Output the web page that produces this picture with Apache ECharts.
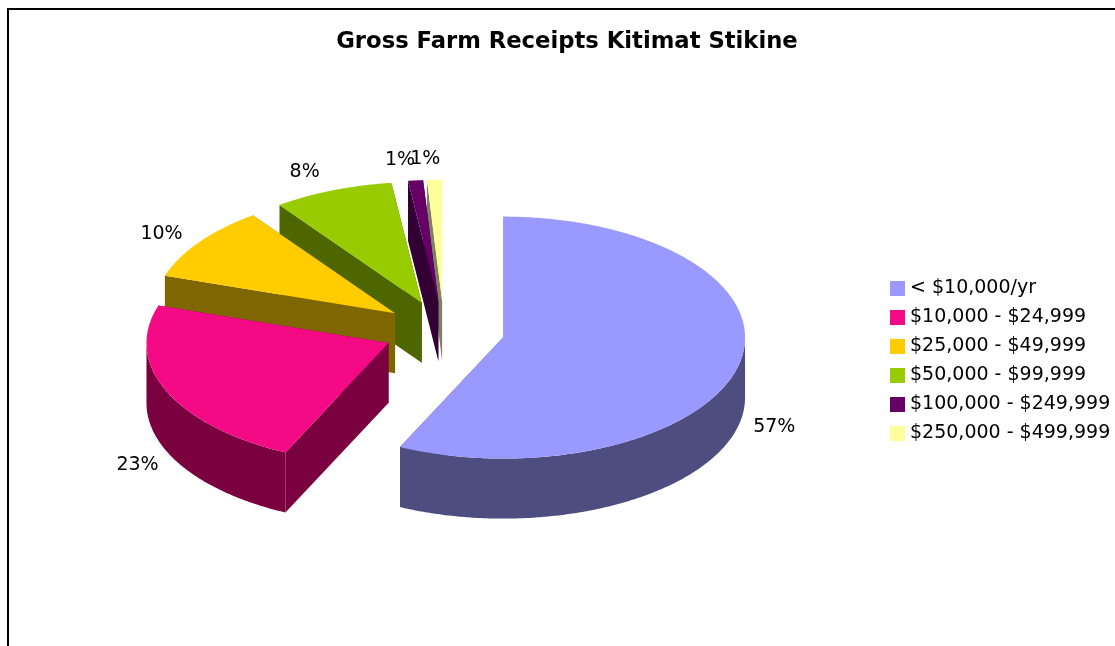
<!DOCTYPE html>
<html>
<head>
<meta charset="utf-8">
<title>Gross Farm Receipts Kitimat Stikine</title>
<style>
  html, body { margin: 0; padding: 0; background: #fff; }
  #chart { width: 1115px; height: 646px; }
</style>
<script src="https://cdn.jsdelivr.net/npm/echarts@6/dist/echarts.min.js"></script>
</head>
<body>
<div id="chart"></div>
<script>
const chartTitle = 'Gross Farm Receipts Kitimat Stikine';
const categories = ['< $10,000/yr', '$10,000 - $24,999', '$25,000 - $49,999',
                    '$50,000 - $99,999', '$100,000 - $249,999', '$250,000 - $499,999'];
const shares = [57, 23, 10, 8, 1, 1];

const topColors  = ['#9999FF', '#F50A85', '#FFCC00', '#99CC00', '#660066', '#FFFF99'];
const sideColors = ['#4D4D80', '#7A0040', '#806600', '#4D6600', '#330033', '#808066'];
// Paint order: the slices nearest the viewer go on last.
const paintOrder = [6, 5, 4, 3, 2, 1];
// Small shifts that keep the narrow back labels next to their slices.
const labelShift = [[-2, -2], [6, 5], [-7, 5], [-14, 2], [-12, 2], [-8, 1]];

const FONT = '"DejaVu Sans", Verdana, sans-serif';
const PIE = { cx: 444, cy: 331, rx: 242, ry: 121, depth: 60, explode: 0.25 };
const rad = d => d * Math.PI / 180;

const total = shares.reduce((a, b) => a + b, 0);
const startAngles = shares.map((_, i) =>
  shares.slice(0, i).reduce((a, b) => a + b, 0) / total * 360);

// A point on the slanted disc, angle measured clockwise from twelve o'clock.
function onRim(apex, deg, drop) {
  return [apex[0] + PIE.rx * Math.sin(rad(deg)),
          apex[1] - PIE.ry * Math.cos(rad(deg)) + (drop || 0)];
}

function arc(apex, from, to, drop) {
  const pts = [];
  const steps = Math.max(2, Math.ceil((to - from) * 2));
  for (let s = 0; s <= steps; s++) pts.push(onRim(apex, from + (to - from) * s / steps, drop));
  return pts;
}

function sliceRenderer(index) {
  return function (params, api) {
    const value = api.value(0);
    const from = startAngles[index];
    const to = from + value / total * 360;
    const mid = (from + to) / 2;
    const pull = PIE.rx * PIE.explode;
    const apex = [PIE.cx + pull * Math.sin(rad(mid)),
                  PIE.cy - pull * Math.cos(rad(mid)) * PIE.ry / PIE.rx];
    const under = [apex[0], apex[1] + PIE.depth];
    const side = sideColors[index];
    const face = (points, fill) => ({
      type: 'polygon', shape: { points: points }, style: { fill: fill }, silent: true
    });
    const children = [];

    // Cut faces, then the outer wall on the front half, then the top.
    [from, to].forEach(a => {
      const rim = onRim(apex, a), rimLow = onRim(apex, a, PIE.depth);
      children.push(face([apex, rim, rimLow, under], side));
    });
    const wallFrom = Math.max(from, 90), wallTo = Math.min(to, 270);
    if (wallTo > wallFrom) {
      children.push(face(arc(apex, wallFrom, wallTo, 0)
        .concat(arc(apex, wallFrom, wallTo, PIE.depth).reverse()), side));
    }
    children.push(face([apex].concat(arc(apex, from, to, 0)), topColors[index]));

    const front = Math.cos(rad(mid)) < 0 ? PIE.depth : 0;
    children.push({
      type: 'text',
      silent: true,
      style: {
        text: Math.round(value / total * 100) + '%',
        x: apex[0] + Math.sin(rad(mid)) * (PIE.rx + 38) + labelShift[index][0],
        y: apex[1] - Math.cos(rad(mid)) * (PIE.ry + 22) + front + labelShift[index][1],
        fill: '#000', font: '19px ' + FONT, align: 'center', verticalAlign: 'middle'
      }
    });
    return { type: 'group', children: children };
  };
}

const chart = echarts.init(document.getElementById('chart'), null, { renderer: 'canvas' });
chart.setOption({
  animation: false,
  backgroundColor: '#fff',
  title: {
    text: chartTitle, left: 562, top: 26, textAlign: 'center',
    textStyle: { fontFamily: FONT, fontSize: 22.7, fontWeight: 'bold', color: '#000' }
  },
  legend: {
    orient: 'vertical', left: 885, top: 273,
    icon: 'rect', itemWidth: 15, itemHeight: 15, itemGap: 8,
    selectedMode: false,
    data: categories,
    textStyle: { fontFamily: FONT, fontSize: 19, color: '#000', lineHeight: 21 }
  },
  graphic: [{
    type: 'rect', silent: true, z: 0,
    shape: { x: 8, y: 9, width: 1200, height: 800 },
    style: { fill: 'none', stroke: '#000', lineWidth: 2 }
  }],
  series: categories.map((name, i) => ({
    type: 'custom',
    name: name,
    coordinateSystem: 'none',
    z: 2 + paintOrder[i],
    itemStyle: { color: topColors[i] },
    renderItem: sliceRenderer(i),
    data: [[shares[i]]]
  }))
});
</script>
</body>
</html>
